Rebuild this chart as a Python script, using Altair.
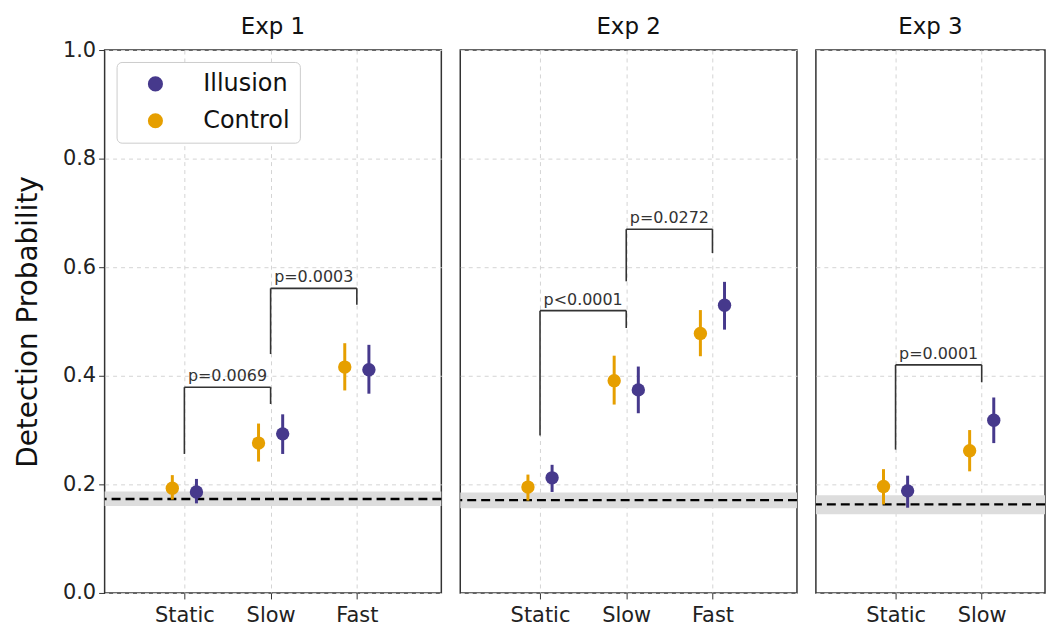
import altair as alt
import pandas as pd

FONT = "DejaVu Sans"

experiments = ["Exp 1", "Exp 2", "Exp 3"]
categories = ["Static", "Slow", "Fast"]
exp_categories = [["Static", "Slow", "Fast"], ["Static", "Slow", "Fast"], ["Static", "Slow"]]
conditions = ["Illusion", "Control"]
colors = ["#46398c", "#e69f00"]

# Exp 1
control_mean_1 = [0.193, 0.276, 0.416]
control_lo_1 = [0.172, 0.242, 0.373]
control_hi_1 = [0.217, 0.312, 0.460]
illusion_mean_1 = [0.186, 0.293, 0.411]
illusion_lo_1 = [0.165, 0.256, 0.367]
illusion_hi_1 = [0.210, 0.329, 0.457]
# Exp 2
control_mean_2 = [0.195, 0.391, 0.478]
control_lo_2 = [0.170, 0.347, 0.436]
control_hi_2 = [0.218, 0.437, 0.521]
illusion_mean_2 = [0.212, 0.374, 0.530]
illusion_lo_2 = [0.186, 0.331, 0.485]
illusion_hi_2 = [0.236, 0.417, 0.573]
# Exp 3
control_mean_3 = [0.196, 0.262]
control_lo_3 = [0.163, 0.224]
control_hi_3 = [0.228, 0.300]
illusion_mean_3 = [0.188, 0.318]
illusion_lo_3 = [0.157, 0.276]
illusion_hi_3 = [0.216, 0.360]

# chance level (dashed) and its band
chance = [0.173, 0.171, 0.163]
chance_lo = [0.160, 0.156, 0.145]
chance_hi = [0.187, 0.185, 0.180]

# significance brackets: exp, from, to, left leg bottom, top, right leg bottom, label
bracket_exp = ["Exp 1", "Exp 1", "Exp 2", "Exp 2", "Exp 3"]
bracket_from = ["Static", "Slow", "Static", "Slow", "Static"]
bracket_to = ["Slow", "Fast", "Slow", "Fast", "Slow"]
bracket_left = [0.256, 0.440, 0.290, 0.574, 0.264]
bracket_top = [0.379, 0.561, 0.520, 0.670, 0.420]
bracket_right = [0.348, 0.531, 0.488, 0.626, 0.388]
bracket_label = ["p=0.0069", "p=0.0003", "p<0.0001", "p=0.0272", "p=0.0001"]

series = {
    "Exp 1": {"Control": (control_mean_1, control_lo_1, control_hi_1),
              "Illusion": (illusion_mean_1, illusion_lo_1, illusion_hi_1)},
    "Exp 2": {"Control": (control_mean_2, control_lo_2, control_hi_2),
              "Illusion": (illusion_mean_2, illusion_lo_2, illusion_hi_2)},
    "Exp 3": {"Control": (control_mean_3, control_lo_3, control_hi_3),
              "Illusion": (illusion_mean_3, illusion_lo_3, illusion_hi_3)},
}
dodge = {"Control": -0.14, "Illusion": 0.14}

rows = []
for e in experiments:
    cats = exp_categories[experiments.index(e)]
    for cond in conditions:
        m, lo, hi = series[e][cond]
        for k, c in enumerate(cats):
            rows.append({"exp": e, "cond": cond, "cat": c, "x": k + dodge[cond],
                         "mean": m[k], "lo": lo[k], "hi": hi[k]})
points = pd.DataFrame(rows)

brows = []
for i in range(len(bracket_exp)):
    cats = exp_categories[experiments.index(bracket_exp[i])]
    x1 = cats.index(bracket_from[i])
    x2 = cats.index(bracket_to[i])
    brows.append({"exp": bracket_exp[i], "x1": x1, "x2": x2, "xm": (x1 + x2) / 2,
                  "yl": bracket_left[i], "yt": bracket_top[i], "yr": bracket_right[i],
                  "label": bracket_label[i]})
brackets = pd.DataFrame(brows)

chance_df = pd.DataFrame({"exp": experiments, "chance": chance, "lo": chance_lo, "hi": chance_hi})

widths = [338, 338, 230]
x_domains = [[-0.925, 2.98], [-0.925, 2.98], [-0.925, 1.735]]
title_offsets = [0, 11, 11]
PLOT_H = 545

yscale = alt.Scale(domain=[0, 1], nice=False, zero=False)


def make_panel(idx):
    e = experiments[idx]
    cats = exp_categories[idx]
    W = widths[idx]
    first = idx == 0
    label_expr = "[" + ",".join("'%s'" % c for c in cats) + "][datum.value]"
    xaxis = alt.Axis(values=list(range(len(cats))), labelExpr=label_expr, title=None,
                     grid=True, gridDash=[4, 4], gridColor="#d4d4d4", labelFontSize=21,
                     labelPadding=6, tickSize=6)
    xscale = alt.Scale(domain=x_domains[idx], nice=False, zero=False)
    if first:
        yaxis = alt.Axis(values=[0, 0.2, 0.4, 0.6, 0.8, 1.0], format=".1f",
                         title="Detection Probability", titleFontSize=28,
                         titleFontWeight="normal", titlePadding=20, grid=True,
                         gridDash=[4, 4], gridColor="#d4d4d4", labelFontSize=21,
                         tickSize=6, labelPadding=3)
    else:
        yaxis = alt.Axis(values=[0, 0.2, 0.4, 0.6, 0.8, 1.0], labels=False, ticks=False,
                         title=None, grid=True, gridDash=[4, 4], gridColor="#d4d4d4")

    def X(f):
        return alt.X(f, type="quantitative", scale=xscale, axis=xaxis)

    def Y(f):
        return alt.Y(f, type="quantitative", scale=yscale, axis=yaxis)

    if first:
        legend = alt.Legend(title=None, orient="top-left", offset=12, labelFontSize=24,
                            labelFont=FONT, symbolType="circle", symbolSize=230,
                            symbolOffset=17, labelOffset=36, rowPadding=13, padding=10,
                            fillColor="white", strokeColor="#cccccc", cornerRadius=5,
                            symbolStrokeWidth=0, labelColor="#111111")
    else:
        legend = None
    color = alt.Color("cond:N", scale=alt.Scale(domain=conditions, range=colors), legend=legend)

    cd = chance_df[chance_df.exp == e]
    pts = points[points.exp == e]
    br = brackets[brackets.exp == e]

    band = alt.Chart(cd).mark_rect(color="#dddddd").encode(
        x=alt.value(0), x2=alt.value(W), y=Y("lo"), y2="hi")
    dash = alt.Chart(cd).mark_rule(color="black", strokeWidth=2.3, strokeDash=[9, 5]).encode(
        y=Y("chance"))
    bars = alt.Chart(pts).mark_rule(strokeWidth=3).encode(
        x=X("x"), y=Y("lo"), y2="hi", color=color)
    dots = alt.Chart(pts).mark_circle(size=180, opacity=1).encode(
        x=X("x"), y=Y("mean"), color=color)
    leg_l = alt.Chart(br).mark_rule(color="#333333", strokeWidth=1.6).encode(
        x=X("x1"), y=Y("yl"), y2="yt")
    leg_r = alt.Chart(br).mark_rule(color="#333333", strokeWidth=1.6).encode(
        x=X("x2"), y=Y("yr"), y2="yt")
    top = alt.Chart(br).mark_rule(color="#333333", strokeWidth=1.6).encode(
        x=X("x1"), x2="x2", y=Y("yt"))
    txt = alt.Chart(br).mark_text(font=FONT, fontSize=16, color="#333333",
                                  baseline="bottom", dy=-3).encode(
        x=X("xm"), y=Y("yt"), text="label:N")

    return alt.layer(band, dash, bars, dots, leg_l, leg_r, top, txt).properties(
        width=W, height=PLOT_H,
        title=alt.TitleParams(e, font=FONT, fontSize=23, fontWeight="normal",
                              color="#111111", offset=title_offsets[idx]))


chart = alt.hconcat(*[make_panel(i) for i in range(3)], spacing=15).resolve_scale(
    x="independent").resolve_legend(color="independent").properties(
    padding={"left": 5, "top": 6, "right": 0, "bottom": 0},
    background="white"
).configure_view(stroke="#333333", strokeWidth=1.5).configure_axis(
    labelFont=FONT, titleFont=FONT, labelColor="#222222", titleColor="#111111",
    tickColor="#333333", domain=False
)

chart.save("out.html", embed_options={"renderer": "svg", "actions": False})
